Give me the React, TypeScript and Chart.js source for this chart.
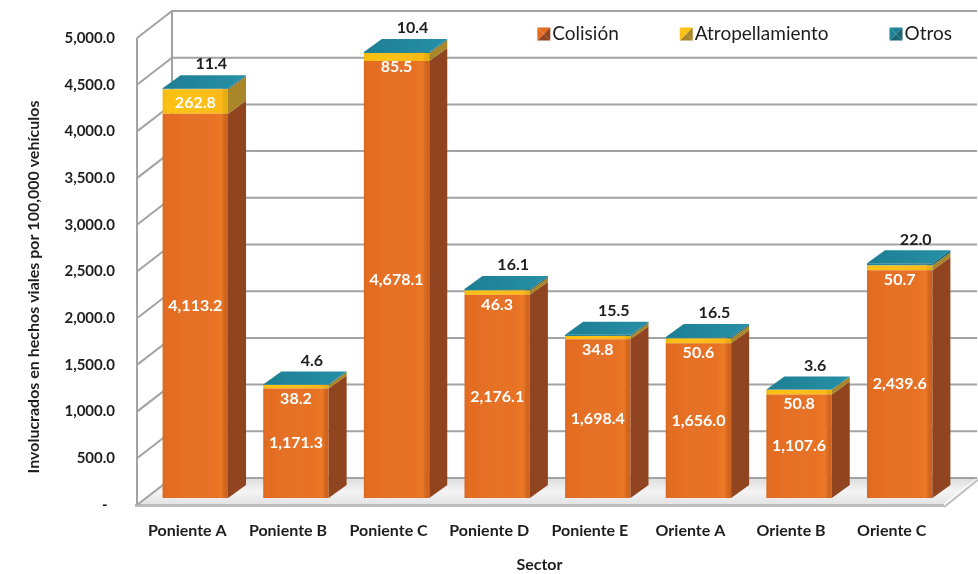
import React, { useEffect, useRef } from "react";
import { Chart, registerables } from "chart.js";

Chart.register(...registerables);

// ---------- data ----------
const categories = [
  "Poniente A",
  "Poniente B",
  "Poniente C",
  "Poniente D",
  "Poniente E",
  "Oriente A",
  "Oriente B",
  "Oriente C",
];
const colision = [4113.2, 1171.3, 4678.1, 2176.1, 1698.4, 1656.0, 1107.6, 2439.6];
const atropellamiento = [262.8, 38.2, 85.5, 46.3, 34.8, 50.6, 50.8, 50.7];
const otros = [11.4, 4.6, 10.4, 16.1, 15.5, 16.5, 3.6, 22.0];
const seriesNames = ["Colisión", "Atropellamiento", "Otros"];
const yMin = 0;
const yMax = 5000;
const yStep = 500;
const yTitle = "Involucrados en hechos viales por 100,000 vehículos";
const xTitle = "Sector";

// ---------- styles ----------
const W = 978;
const H = 574;
const FONT = "Lato";
const TEXT = "#1E1E1E";
const FRONT = ["#E46C20", "#FBC010", "#1F8398"];
const SIDE = ["#904420", "#A9862A", "#1A6676"];
const GRID = "#A3A3A3";
const WALL_DX = 35;
const WALL_DY = -27;
const BAR_SX = 8;
const BAR_SY = -7;
const DEPTH_DX = 18;
const DEPTH_DY = -13;

const fmt = (v: number) =>
  v.toLocaleString("en-US", { minimumFractionDigits: 1, maximumFractionDigits: 1 });

function poly(ctx: CanvasRenderingContext2D, pts: number[][], fill: string | CanvasGradient) {
  ctx.beginPath();
  ctx.moveTo(pts[0][0], pts[0][1]);
  for (let i = 1; i < pts.length; i++) ctx.lineTo(pts[i][0], pts[i][1]);
  ctx.closePath();
  ctx.fillStyle = fill;
  ctx.fill();
}

const threeD = {
  id: "threeD",
  beforeDatasetsDraw(chart: any) {
    const { ctx, chartArea: a, scales } = chart;
    const ys = scales.y;
    const y0 = ys.getPixelForValue(yMin);
    const yTop = ys.getPixelForValue(yMax);
    ctx.save();
    // floor
    const g = ctx.createLinearGradient(0, y0 + WALL_DY, 0, y0);
    g.addColorStop(0, "#DCDCDC");
    g.addColorStop(0.5, "#F4F4F4");
    g.addColorStop(1, "#E2E2E2");
    poly(
      ctx,
      [
        [a.left, y0],
        [a.left + WALL_DX, y0 + WALL_DY],
        [a.right + WALL_DX, y0 + WALL_DY],
        [a.right, y0],
      ],
      g
    );
    // floor front edge
    ctx.fillStyle = "#BDBDBD";
    ctx.fillRect(a.left - 2, y0 - 1, a.right - a.left + 4, 3);
    ctx.beginPath();
    ctx.moveTo(a.right + 2, y0 + 2);
    ctx.lineTo(a.right + WALL_DX + 2, y0 + WALL_DY + 1);
    ctx.strokeStyle = "#BDBDBD";
    ctx.lineWidth = 2;
    ctx.stroke();

    // walls
    ctx.strokeStyle = GRID;
    ctx.lineWidth = 2;
    for (let v = yMin; v <= yMax; v += yStep) {
      const yy = ys.getPixelForValue(v);
      ctx.beginPath();
      ctx.moveTo(a.left, yy);
      ctx.lineTo(a.left + WALL_DX, yy + WALL_DY);
      ctx.lineTo(a.right + WALL_DX, yy + WALL_DY);
      ctx.stroke();
    }
    ctx.beginPath();
    ctx.moveTo(a.left, yTop);
    ctx.lineTo(a.left, y0);
    ctx.moveTo(a.left + WALL_DX, yTop + WALL_DY);
    ctx.lineTo(a.left + WALL_DX, y0 + WALL_DY);
    ctx.stroke();
    ctx.restore();

    // shift bars into the middle of the depth
    ctx.save();
    ctx.translate(BAR_SX, BAR_SY);
  },
  afterDatasetsDraw(chart: any) {
    const { ctx } = chart;
    const n = chart.data.labels.length;
    const metas = chart.data.datasets.map((_: any, i: number) => chart.getDatasetMeta(i));
    for (let i = 0; i < n; i++) {
      let topEl: any = null;
      metas.forEach((m: any, d: number) => {
        const el = m.data[i];
        if (!el) return;
        const { x, y, base, width } = el.getProps(["x", "y", "base", "width"], true);
        const left = x - width / 2;
        const right = x + width / 2;
        // front shading
        const fg = ctx.createLinearGradient(left, 0, right, 0);
        fg.addColorStop(0, "rgba(0,0,0,0.04)");
        fg.addColorStop(0.12, "rgba(255,255,255,0)");
        fg.addColorStop(0.75, "rgba(255,150,60,0.12)");
        fg.addColorStop(0.9, "rgba(255,160,60,0.25)");
        fg.addColorStop(1, "rgba(0,0,0,0.08)");
        ctx.fillStyle = fg;
        ctx.fillRect(left, Math.min(y, base), width, Math.abs(base - y));
        // side face
        poly(
          ctx,
          [
            [right, y],
            [right + DEPTH_DX, y + DEPTH_DY],
            [right + DEPTH_DX, base + DEPTH_DY],
            [right, base],
          ],
          SIDE[d]
        );
        topEl = { left, right, y };
      });
      if (topEl) {
        const tg = ctx.createLinearGradient(topEl.left, 0, topEl.right + DEPTH_DX, 0);
        tg.addColorStop(0, "#1E7E93");
        tg.addColorStop(1, "#2690A6");
        poly(
          ctx,
          [
            [topEl.left, topEl.y],
            [topEl.left + DEPTH_DX, topEl.y + DEPTH_DY],
            [topEl.right + DEPTH_DX, topEl.y + DEPTH_DY],
            [topEl.right, topEl.y],
          ],
          tg
        );
      }
    }
    ctx.restore();

    // data labels
    ctx.save();
    ctx.textAlign = "center";
    ctx.textBaseline = "middle";
    ctx.font = `bold 16px ${FONT}`;
    for (let i = 0; i < n; i++) {
      metas.forEach((m: any, d: number) => {
        const el = m.data[i];
        const { x, y, base } = el.getProps(["x", "y", "base"], true);
        const val = chart.data.datasets[d].data[i];
        const txt = fmt(val);
        if (d === 0) {
          ctx.fillStyle = "#FFFFFF";
          ctx.fillText(txt, x + BAR_SX, (y + base) / 2 + BAR_SY);
        } else if (d === 1) {
          ctx.fillStyle = "#FFFFFF";
          ctx.fillText(txt, x + BAR_SX, Math.max((y + base) / 2, y + 14) + BAR_SY);
        } else {
          ctx.fillStyle = TEXT;
          ctx.fillText(txt, x + BAR_SX + 16, y + BAR_SY - 24);
        }
      });
    }
    ctx.restore();
  },
  afterDraw(chart: any) {
    const { ctx } = chart;
    ctx.save();
    // y axis title
    ctx.translate(34, 287);
    ctx.rotate(-Math.PI / 2);
    ctx.textAlign = "center";
    ctx.textBaseline = "middle";
    ctx.font = `bold 16px ${FONT}`;
    ctx.fillStyle = TEXT;
    ctx.fillText(yTitle, 0, 0);
    ctx.restore();

    // legend
    ctx.save();
    ctx.font = `19px ${FONT}`;
    ctx.textBaseline = "middle";
    ctx.textAlign = "left";
    const box = 13;
    const gap = 61;
    const widths = seriesNames.map((s) => box + 2 + ctx.measureText(s).width);
    const total = widths.reduce((p, c) => p + c, 0) + gap * (seriesNames.length - 1);
    let x = 952 - total;
    const yc = 34;
    seriesNames.forEach((s, i) => {
      const bx = x;
      const by = yc - box / 2;
      const cx = bx + box / 2;
      const cy = by + box / 2;
      poly(ctx, [[bx, by], [bx + box, by], [cx, cy]], FRONT[i]);
      poly(ctx, [[bx + box, by], [bx + box, by + box], [cx, cy]], SIDE[i]);
      poly(ctx, [[bx, by + box], [bx + box, by + box], [cx, cy]], SIDE[i]);
      poly(ctx, [[bx, by], [bx, by + box], [cx, cy]], FRONT[i]);
      ctx.fillStyle = TEXT;
      ctx.fillText(s, bx + box + 2, yc);
      x += widths[i] + gap;
    });
    ctx.restore();
  },
};

export default function App() {
  const ref = useRef<HTMLCanvasElement>(null);
  useEffect(() => {
    const canvas = ref.current;
    if (!canvas) return;
    const mk = (label: string, data: number[], i: number) => ({
      label,
      data,
      backgroundColor: FRONT[i],
      borderWidth: 0,
      stack: "s",
      barPercentage: 0.65,
      categoryPercentage: 1,
      clip: false as any,
    });
    const chart = new Chart(canvas, {
      type: "bar",
      data: {
        labels: categories,
        datasets: [
          mk(seriesNames[0], colision, 0),
          mk(seriesNames[1], atropellamiento, 1),
          mk(seriesNames[2], otros, 2),
        ],
      },
      options: {
        responsive: false,
        animation: false,
        devicePixelRatio: 1,
        layout: { padding: { top: 38, right: 36, left: 0, bottom: 0 } },
        plugins: {
          legend: { display: false },
          tooltip: { enabled: false },
        },
        scales: {
          x: {
            stacked: true,
            grid: { display: false },
            border: { display: false },
            ticks: {
              font: { family: FONT, weight: "bold", size: 16 },
              color: TEXT,
              padding: 8,
              maxRotation: 0,
              autoSkip: false,
            },
            title: {
              display: true,
              text: xTitle,
              font: { family: FONT, weight: "bold", size: 16 },
              color: TEXT,
              padding: 0,
            },
            afterFit: (s: any) => {
              s.height = 69;
            },
          },
          y: {
            stacked: true,
            min: yMin,
            max: yMax,
            grid: { display: false },
            border: { display: false },
            ticks: {
              stepSize: yStep,
              padding: 14,
              font: { family: FONT, weight: "bold", size: 15 },
              color: TEXT,
              callback: (v: any) => (Number(v) === 0 ? "-  " : fmt(Number(v))),
            },
            afterFit: (s: any) => {
              s.width = 137;
            },
          },
        },
      },
      plugins: [threeD],
    } as any);
    return () => chart.destroy();
  }, []);
  return (
    <div style={{ position: "fixed", left: 0, top: 0, width: W, height: H, background: "#fff" }}>
      <canvas ref={ref} width={W} height={H} style={{ display: "block" }} />
    </div>
  );
}
